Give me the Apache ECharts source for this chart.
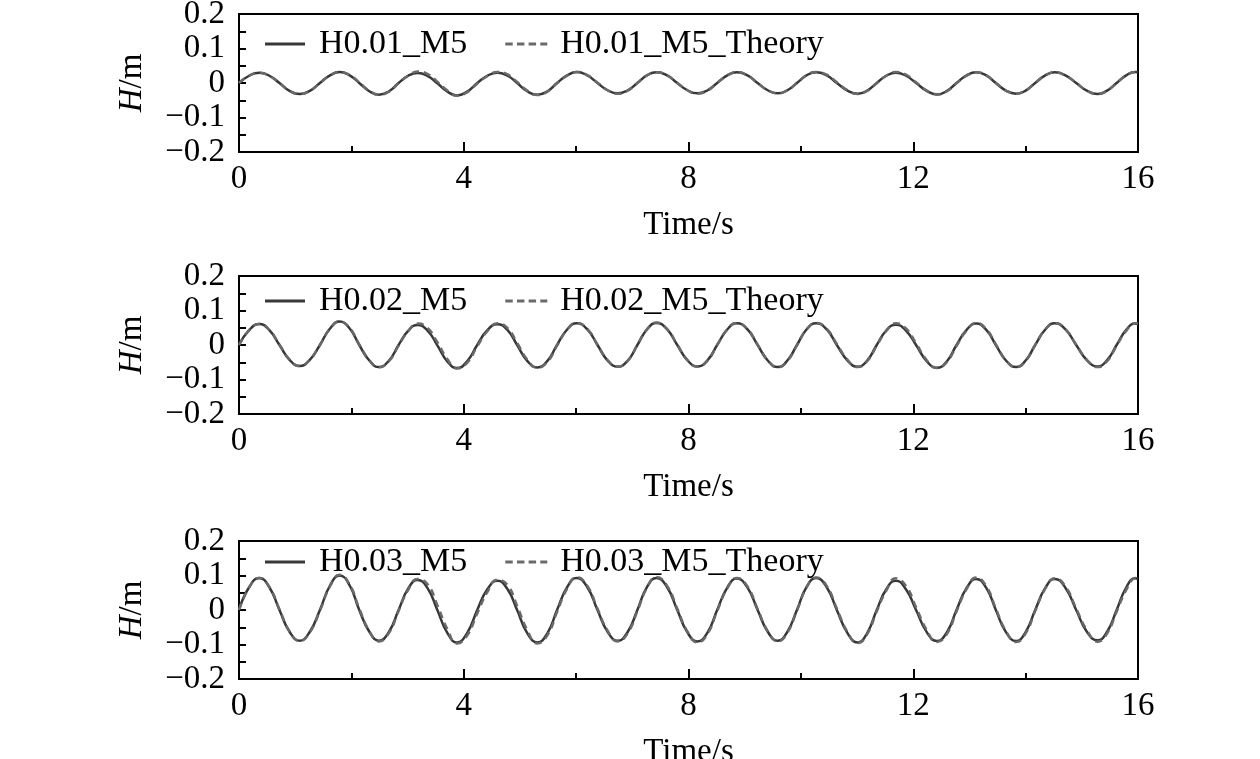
<!DOCTYPE html>
<html>
<head>
<meta charset="utf-8">
<script src="https://cdn.jsdelivr.net/npm/echarts@6/dist/echarts.min.js"></script>
<style>html,body{margin:0;padding:0;background:#fff;}#c{width:1260px;height:759px;}</style>
</head>
<body>
<div id="c"></div>
<script>
var times = [0,0.18,0.36,0.54,0.72,0.90,1.08,1.26,1.44,1.62,1.79,1.97,2.14,2.32,2.49,2.67,2.84,3.01,3.18,3.36,3.53,3.71,3.88,4.06,4.24,4.42,4.60,4.78,4.95,5.13,5.31,5.49,5.66,5.84,6.01,6.20,6.38,6.56,6.74,6.92,7.09,7.26,7.43,7.62,7.80,7.98,8.16,8.34,8.51,8.69,8.86,9.05,9.23,9.41,9.59,9.76,9.93,10.10,10.27,10.46,10.64,10.83,11.01,11.18,11.35,11.52,11.69,11.87,12.05,12.24,12.42,12.60,12.77,12.95,13.12,13.30,13.47,13.65,13.83,14.00,14.17,14.35,14.52,14.71,14.90,15.09,15.28,15.45,15.62,15.79,15.95,16.00];

var h1Sim = [
0.000,0.021,0.030,0.021,0.000,-0.023,-0.032,-0.023,
0.000,0.022,0.032,0.022,0.000,-0.024,-0.034,-0.024,
0.000,0.021,0.029,0.020,-0.001,-0.025,-0.036,-0.025,
0.000,0.021,0.030,0.021,0.000,-0.024,-0.034,-0.024,
0.000,0.022,0.032,0.022,0.000,-0.021,-0.030,-0.021,
0.000,0.022,0.031,0.022,0.000,-0.021,-0.030,-0.021,
0.000,0.022,0.031,0.022,0.000,-0.021,-0.030,-0.021,
0.000,0.022,0.031,0.022,0.000,-0.022,-0.031,-0.022,
0.000,0.021,0.030,0.021,0.000,-0.023,-0.033,-0.023,
0.000,0.022,0.031,0.022,0.000,-0.022,-0.031,-0.022,
0.000,0.022,0.031,0.022,0.000,-0.022,-0.032,-0.022,
0.000,0.022,0.032,0.031];
var h1Theory = [
0.000,0.021,0.030,0.021,0.000,-0.023,-0.032,-0.023,
0.000,0.022,0.032,0.023,0.002,-0.023,-0.034,-0.025,
-0.001,0.021,0.033,0.026,0.004,-0.022,-0.037,-0.027,
-0.002,0.020,0.032,0.025,0.003,-0.022,-0.035,-0.025,
-0.001,0.021,0.032,0.023,0.001,-0.021,-0.031,-0.022,
0.000,0.022,0.031,0.022,0.000,-0.021,-0.031,-0.022,
0.000,0.022,0.031,0.022,0.000,-0.021,-0.030,-0.021,
0.000,0.022,0.032,0.024,0.002,-0.021,-0.032,-0.023,
-0.001,0.021,0.032,0.024,0.002,-0.022,-0.033,-0.024,
-0.001,0.021,0.031,0.022,0.000,-0.022,-0.031,-0.022,
0.000,0.022,0.031,0.022,0.000,-0.022,-0.032,-0.022,
0.000,0.022,0.032,0.031];

var h2Sim = [
0.000,0.043,0.061,0.043,0.000,-0.043,-0.061,-0.043,
0.000,0.048,0.068,0.048,0.000,-0.045,-0.064,-0.045,
0.000,0.041,0.058,0.041,-0.001,-0.048,-0.067,-0.047,
0.000,0.043,0.060,0.043,0.000,-0.046,-0.065,-0.046,
0.000,0.045,0.063,0.045,0.000,-0.045,-0.063,-0.045,
0.000,0.045,0.064,0.045,0.000,-0.044,-0.062,-0.044,
0.000,0.045,0.063,0.045,0.000,-0.045,-0.064,-0.045,
0.000,0.045,0.063,0.045,0.000,-0.045,-0.063,-0.045,
0.000,0.042,0.059,0.042,0.000,-0.047,-0.066,-0.047,
0.000,0.044,0.062,0.044,0.000,-0.045,-0.064,-0.045,
0.000,0.045,0.063,0.045,0.000,-0.044,-0.062,-0.044,
0.000,0.044,0.062,0.060];
var h2Theory = [
0.000,0.043,0.061,0.044,0.001,-0.042,-0.061,-0.043,
0.000,0.047,0.068,0.049,0.002,-0.044,-0.065,-0.047,
-0.002,0.040,0.062,0.049,0.008,-0.041,-0.068,-0.052,
-0.004,0.040,0.063,0.049,0.006,-0.042,-0.066,-0.049,
-0.002,0.044,0.064,0.046,0.001,-0.044,-0.063,-0.046,
0.000,0.045,0.065,0.046,0.001,-0.044,-0.063,-0.045,
0.000,0.045,0.064,0.046,0.001,-0.044,-0.065,-0.046,
-0.001,0.044,0.064,0.047,0.003,-0.043,-0.064,-0.047,
-0.002,0.041,0.063,0.048,0.005,-0.044,-0.067,-0.049,
-0.003,0.042,0.064,0.046,0.002,-0.044,-0.064,-0.046,
0.000,0.045,0.063,0.045,0.001,-0.043,-0.064,-0.047,
-0.002,0.041,0.063,0.062];

var h3Sim = [
0.000,0.066,0.093,0.066,0.000,-0.063,-0.089,-0.063,
0.000,0.071,0.100,0.071,0.000,-0.063,-0.089,-0.063,
0.000,0.062,0.087,0.062,0.000,-0.067,-0.094,-0.067,
0.000,0.060,0.085,0.060,0.000,-0.067,-0.094,-0.067,
0.000,0.066,0.093,0.066,0.000,-0.063,-0.089,-0.063,
0.000,0.066,0.093,0.066,0.000,-0.065,-0.091,-0.065,
0.000,0.065,0.091,0.065,0.000,-0.063,-0.089,-0.063,
0.000,0.066,0.093,0.066,0.000,-0.067,-0.094,-0.067,
0.000,0.060,0.085,0.060,0.000,-0.064,-0.090,-0.064,
0.000,0.064,0.090,0.064,0.000,-0.064,-0.090,-0.064,
0.000,0.064,0.090,0.064,0.000,-0.063,-0.088,-0.063,
0.000,0.065,0.092,0.090];
var h3Theory = [
0.000,0.065,0.093,0.067,0.002,-0.062,-0.090,-0.065,
-0.002,0.069,0.102,0.074,0.004,-0.061,-0.091,-0.066,
-0.003,0.058,0.090,0.074,0.014,-0.056,-0.097,-0.074,
-0.010,0.052,0.088,0.072,0.012,-0.058,-0.097,-0.073,
-0.006,0.062,0.095,0.070,0.004,-0.060,-0.091,-0.067,
-0.003,0.064,0.096,0.070,0.004,-0.062,-0.094,-0.069,
-0.003,0.063,0.093,0.068,0.003,-0.061,-0.091,-0.066,
-0.002,0.065,0.094,0.070,0.004,-0.064,-0.096,-0.070,
-0.004,0.056,0.092,0.070,0.008,-0.058,-0.093,-0.069,
-0.004,0.061,0.094,0.069,0.004,-0.061,-0.093,-0.068,
-0.003,0.062,0.092,0.068,0.004,-0.058,-0.092,-0.068,
-0.005,0.058,0.093,0.094];

var seriesNames = [
  ['H0.01_M5','H0.01_M5_Theory'],
  ['H0.02_M5','H0.02_M5_Theory'],
  ['H0.03_M5','H0.03_M5_Theory']
];
var simData = [h1Sim, h2Sim, h3Sim];
var theoryData = [h1Theory, h2Theory, h3Theory];
var xTicks = {min: 0, max: 16, step: 4};
var yTicks = {min: -0.2, max: 0.2, step: 0.1};
var xName = 'Time/s';

var FONT = 'Liberation Serif';
var FS = 33;
var LFS = 34;
var SIM_COLOR = '#383838', TH_COLOR = '#6a6a6a';
var gridTops = [14, 276, 541];
var legendTops = [27, 284, 545];
var solidIcon = 'path://M0,0H40V3H0Z';
var dashIcon = 'path://M0,0H8V3H0Z M12.5,0H20.5V3H12.5Z M25,0H33V3H25Z M37.5,0H45V3H37.5Z';

function pairs(vals){ return times.map(function(t,i){ return [t, vals[i]]; }); }

var grids = [], xAxes = [], yAxes = [], series = [], legends = [];
for (var k = 0; k < 3; k++) {
  grids.push({left: 239, right: 122, top: gridTops[k], height: 138, show: true, borderColor: '#000', borderWidth: 2,
    backgroundColor: 'transparent', outerBoundsMode: 'none', containLabel: false});
  xAxes.push({
    type: 'value', gridIndex: k, min: xTicks.min, max: xTicks.max, interval: xTicks.step,
    name: xName, nameLocation: 'middle', nameGap: 56,
    nameTextStyle: {fontFamily: FONT, fontSize: FS, color: '#000', lineHeight: 34},
    axisLine: {show: true, onZero: false, lineStyle: {color: '#000', width: 2}},
    axisTick: {show: true, inside: true, length: 10, lineStyle: {color: '#000', width: 2}},
    minorTick: {show: true, splitNumber: 2, length: 6, lineStyle: {color: '#000', width: 2}},
    splitLine: {show: false},
    axisLabel: {fontFamily: FONT, fontSize: FS, color: '#000', margin: 12, lineHeight: 30, hideOverlap: false}
  });
  yAxes.push({
    type: 'value', gridIndex: k, min: yTicks.min, max: yTicks.max, interval: yTicks.step,
    name: '{i|H}/m', nameLocation: 'middle', nameGap: 90,
    nameTextStyle: {fontFamily: FONT, fontSize: FS, color: '#000', rich: {i: {fontFamily: FONT, fontSize: FS, fontStyle: 'italic', color: '#000'}}},
    axisLine: {show: true, onZero: false, lineStyle: {color: '#000', width: 2}},
    axisTick: {show: true, inside: true, length: 7, lineStyle: {color: '#000', width: 2}},
    minorTick: {show: true, splitNumber: 2, length: 7, lineStyle: {color: '#000', width: 2}},
    splitLine: {show: false},
    axisLabel: {fontFamily: FONT, fontSize: FS, color: '#000', margin: 14, lineHeight: 26, hideOverlap: false,
      showMinLabel: true, showMaxLabel: true,
      formatter: function(v){ var r = Math.round(v*10)/10; if (r === 0) return '0'; return (r < 0 ? '\u2212' : '') + Math.abs(r).toFixed(1); }}
  });
  series.push({
    name: seriesNames[k][0], type: 'line', xAxisIndex: k, yAxisIndex: k,
    data: pairs(simData[k]), smooth: 0.5, showSymbol: false, symbol: 'none',
    lineStyle: {color: SIM_COLOR, width: 2.5, type: 'solid'}, itemStyle: {color: SIM_COLOR},
    animation: false, z: 2
  });
  series.push({
    name: seriesNames[k][1], type: 'line', xAxisIndex: k, yAxisIndex: k,
    data: pairs(theoryData[k]), smooth: 0.5, showSymbol: false, symbol: 'none',
    lineStyle: {color: TH_COLOR, width: 2.5, type: [7, 5]}, itemStyle: {color: TH_COLOR},
    animation: false, z: 3
  });
  legends.push({
    show: true, orient: 'horizontal',
    data: [
      {name: seriesNames[k][0], icon: solidIcon, itemStyle: {color: SIM_COLOR}},
      {name: seriesNames[k][1], icon: dashIcon, itemStyle: {color: TH_COLOR}}
    ],
    left: 265, top: legendTops[k], padding: 0,
    itemWidth: 42, itemHeight: 3, itemGap: 38,
    textStyle: {fontFamily: FONT, fontSize: LFS, color: '#000', padding: [0, 0, 0, 8]},
    selectedMode: false
  });
}

var chart = echarts.init(document.getElementById('c'), null, {renderer: 'canvas'});
chart.setOption({
  backgroundColor: '#fff',
  animation: false,
  grid: grids, xAxis: xAxes, yAxis: yAxes, series: series, legend: legends
});
</script>
</body>
</html>
